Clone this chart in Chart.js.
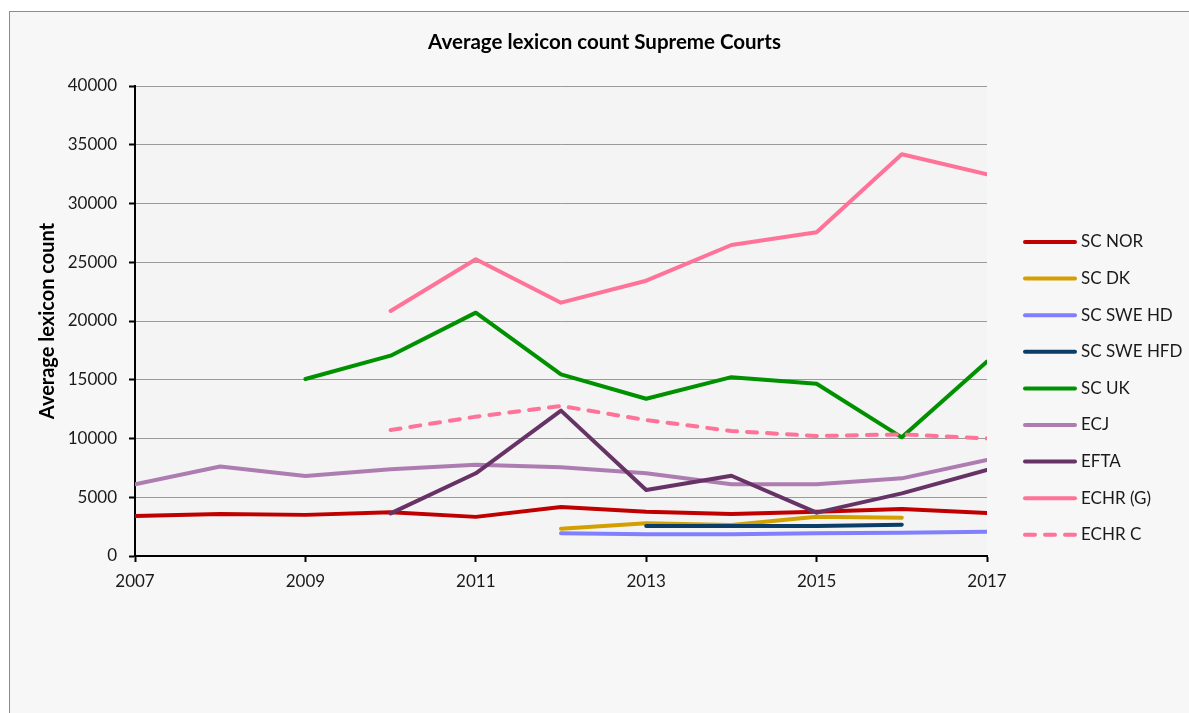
<!DOCTYPE html>
<html>
<head>
<meta charset="utf-8">
<script src="https://cdn.jsdelivr.net/npm/chart.js@4.4.1/dist/chart.umd.min.js"></script>
<style>
  html, body { margin: 0; padding: 0; background: #ffffff; overflow: hidden; }
  #frame {
    position: absolute; left: 9px; top: 11px; width: 1200px; height: 720px;
    background: #f7f7f7; border: 1px solid #8c8c8c;
  }
  #lexiconChart { position: absolute; left: 0; top: 0; }
</style>
</head>
<body>
<div id="frame"></div>
<canvas id="lexiconChart" width="1189" height="713"></canvas>
<script>
// years on the x axis and the tick labels shown
const years = [2007, 2008, 2009, 2010, 2011, 2012, 2013, 2014, 2015, 2016, 2017];
const xTickYears = [2007, 2009, 2011, 2013, 2015, 2017];

// series values (null = no data that year)
const scNor   = [3400, 3570, 3500, 3720, 3330, 4170, 3770, 3570, 3770, 4000, 3660];
const scDk    = [null, null, null, null, null, 2320, 2780, 2640, 3350, 3260, null];
const scSweHd = [null, null, null, null, null, 1930, 1850, 1850, 1930, 1980, 2070];
const scSweHfd = [null, null, null, null, null, null, 2550, 2550, 2560, 2670, null];
const scUk    = [null, null, 15060, 17050, 20710, 15460, 13380, 15220, 14660, 10100, 16550];
const ecj     = [6110, 7620, 6810, 7390, 7760, 7560, 7040, 6100, 6100, 6610, 8170];
const efta    = [null, null, null, 3630, 7040, 12370, 5620, 6830, 3690, 5330, 7320];
const echrG   = [null, null, null, 20850, 25250, 21560, 23430, 26470, 27550, 34190, 32480];
const echrC   = [null, null, null, 10720, 11860, 12770, 11570, 10640, 10210, 10350, 10010];

const seriesNames = ['SC NOR', 'SC DK', 'SC SWE HD', 'SC SWE HFD', 'SC UK', 'ECJ', 'EFTA', 'ECHR (G)', 'ECHR C'];
const seriesValues = [scNor, scDk, scSweHd, scSweHfd, scUk, ecj, efta, echrG, echrC];
const seriesColors = ['#c00000', '#d4a000', '#8080ff', '#0b3d66', '#009100', '#ad7db1', '#673366', '#ff7399', '#ff7399'];

Chart.defaults.font.family = 'Lato';
Chart.defaults.color = '#1a1a1a';

function toPoints(values) {
  return years.map(function(yr, i) { return { x: yr, y: values[i] }; });
}

var datasets = seriesNames.map(function(name, i) {
  return {
    label: name,
    data: toPoints(seriesValues[i]),
    borderColor: seriesColors[i],
    backgroundColor: seriesColors[i],
    borderWidth: 4,
    borderDash: name === 'ECHR C' ? [10, 10] : [],
    borderCapStyle: 'round',
    borderJoinStyle: 'round',
    pointRadius: 0,
    tension: 0,
    spanGaps: false,
    order: seriesNames.length - i
  };
});

// plot area background
var plotBackground = {
  id: 'plotBackground',
  beforeDraw: function(chart) {
    var a = chart.chartArea;
    var ctx = chart.ctx;
    ctx.save();
    ctx.fillStyle = '#f4f4f4';
    ctx.fillRect(a.left, a.top, a.right - a.left, a.bottom - a.top);
    ctx.restore();
  }
};

// Excel-style legend on the right
var sideLegend = {
  id: 'sideLegend',
  afterDraw: function(chart) {
    var ctx = chart.ctx;
    ctx.save();
    chart.data.datasets.forEach(function(ds, i) {
      var y = 242 + i * 36.6;
      ctx.beginPath();
      ctx.strokeStyle = ds.borderColor;
      ctx.lineWidth = 4;
      ctx.lineCap = 'round';
      ctx.setLineDash(ds.borderDash);
      ctx.moveTo(1025, y);
      ctx.lineTo(1075, y);
      ctx.stroke();
      ctx.setLineDash([]);
      ctx.fillStyle = '#1a1a1a';
      ctx.font = '17px Lato';
      ctx.textBaseline = 'middle';
      ctx.textAlign = 'left';
      ctx.fillText(ds.label, 1081, y);
    });
    ctx.restore();
  }
};

var ctx = document.getElementById('lexiconChart').getContext('2d');
var chart = new Chart(ctx, {
  type: 'line',
  data: { datasets: datasets },
  options: {
    responsive: false,
    animation: false,
    layout: { padding: { left: 20, right: 0, top: 0, bottom: 0 } },
    plugins: {
      legend: { display: false },
      tooltip: { enabled: false },
      title: {
        display: true,
        text: 'Average lexicon count Supreme Courts',
        color: '#000',
        font: { size: 20.5, weight: 'bold' },
        padding: { top: 30, bottom: 31.4 }
      }
    },
    scales: {
      x: {
        type: 'linear',
        min: 2007,
        max: 2017,
        afterBuildTicks: function(scale) {
          scale.ticks = xTickYears.map(function(v) { return { value: v }; });
        },
        afterFit: function(scale) { scale.height = 157; },
        ticks: {
          color: '#1a1a1a',
          font: { size: 17 },
          padding: 9,
          maxRotation: 0,
          callback: function(v) { return String(v); }
        },
        grid: {
          drawOnChartArea: false,
          drawTicks: true,
          tickLength: 6,
          tickColor: '#000',
          tickWidth: 2
        },
        border: { color: '#000', width: 2 }
      },
      y: {
        min: 0,
        max: 40000,
        afterFit: function(scale) { scale.width = 115; },
        ticks: {
          stepSize: 5000,
          color: '#1a1a1a',
          font: { size: 17 },
          padding: 12,
          callback: function(v) { return String(v); }
        },
        grid: {
          color: '#9a9a9a',
          lineWidth: 1,
          tickLength: 6,
          tickColor: '#000',
          tickWidth: 2
        },
        border: { color: '#000', width: 2 },
        title: {
          display: true,
          text: 'Average lexicon count',
          color: '#000',
          font: { size: 20, weight: 'bold' },
          padding: { top: 15.5, bottom: 0 }
        }
      },
      // empty axis that reserves the legend column on the right
      legendSpace: {
        position: 'right',
        display: true,
        afterFit: function(scale) { scale.width = 202; },
        ticks: { display: false },
        grid: { display: false },
        border: { display: false }
      }
    }
  },
  plugins: [plotBackground, sideLegend]
});
</script>
</body>
</html>
